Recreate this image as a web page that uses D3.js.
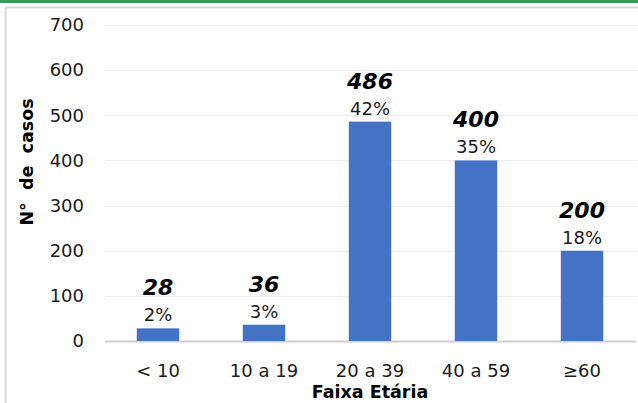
<!DOCTYPE html>
<html>
<head>
<meta charset="utf-8">
<script src="https://cdn.jsdelivr.net/npm/d3@7"></script>
<style>
  body { margin: 0; background: #fff; }
  svg { display: block; font-family: "DejaVu Sans", sans-serif; }
</style>
</head>
<body>
<svg></svg>
<script>
const svgWidth = 638;
const svgHeight = 403;

// data
const categories = ["< 10", "10 a 19", "20 a 39", "40 a 59", "\u226560"];
const counts = [28, 36, 486, 400, 200];
const percents = ["2%", "3%", "42%", "35%", "18%"];
const yTicks = [0, 100, 200, 300, 400, 500, 600, 700];

const margin = { top: 25, right: 3, bottom: 62, left: 105 };

const svg = d3.select("svg")
    .attr("width", svgWidth)
    .attr("height", svgHeight);

// frame: green strip on top, grey border
svg.append("rect").attr("x", 0).attr("y", 0).attr("width", svgWidth).attr("height", 3).attr("fill", "#3c9a5b");
svg.append("line").attr("x1", 5).attr("x2", svgWidth).attr("y1", 7.5).attr("y2", 7.5)
    .attr("stroke", "#d9d9d9").attr("stroke-width", 2);
svg.append("line").attr("x1", 5.5).attr("x2", 5.5).attr("y1", 7).attr("y2", svgHeight)
    .attr("stroke", "#d9d9d9").attr("stroke-width", 2);

const x = d3.scaleBand()
    .domain(categories)
    .range([margin.left, svgWidth - margin.right])
    .paddingInner(0.6)
    .paddingOuter(0.3);

const y = d3.scaleLinear()
    .domain([0, 700])
    .range([svgHeight - margin.bottom, margin.top]);

// gridlines
svg.append("g")
    .selectAll("line")
    .data(yTicks)
    .enter().append("line")
    .attr("x1", margin.left)
    .attr("x2", 636)
    .attr("y1", d => Math.round(y(d)) + 0.5)
    .attr("y2", d => Math.round(y(d)) + 0.5)
    .attr("stroke", d => d === 0 ? "#d0d0d0" : "#ececec")
    .attr("stroke-width", d => d === 0 ? 2 : 1.2);

// y axis labels
const yAxis = svg.append("g")
    .attr("transform", `translate(${margin.left - 21},0)`)
    .call(d3.axisLeft(y).tickValues(yTicks).tickSize(0).tickPadding(0));
yAxis.select(".domain").remove();
yAxis.selectAll("text")
    .attr("font-size", 18)
    .attr("font-family", "'DejaVu Sans', sans-serif")
    .attr("fill", "#1a1a1a");

// bars
svg.selectAll(".bar")
    .data(counts)
    .enter().append("rect")
    .attr("class", "bar")
    .attr("x", (d, i) => x(categories[i]))
    .attr("width", x.bandwidth())
    .attr("y", d => y(d))
    .attr("height", d => y(0) - y(d))
    .attr("fill", "#4472c4");

// value labels
svg.selectAll(".val")
    .data(counts)
    .enter().append("text")
    .attr("class", "val")
    .attr("x", (d, i) => x(categories[i]) + x.bandwidth() / 2)
    .attr("y", d => y(d) - 33)
    .attr("text-anchor", "middle")
    .attr("font-size", 22)
    .attr("font-weight", "bold")
    .attr("font-style", "italic")
    .attr("fill", "#000")
    .text(d => d);

svg.selectAll(".pct")
    .data(percents)
    .enter().append("text")
    .attr("class", "pct")
    .attr("x", (d, i) => x(categories[i]) + x.bandwidth() / 2)
    .attr("y", (d, i) => y(counts[i]) - 7)
    .attr("text-anchor", "middle")
    .attr("font-size", 18)
    .attr("fill", "#1a1a1a")
    .text(d => d);

// x axis labels
const xAxis = svg.append("g")
    .attr("transform", `translate(0,${y(0)})`)
    .call(d3.axisBottom(x).tickSize(0).tickPadding(0));
xAxis.select(".domain").remove();
xAxis.selectAll("text")
    .attr("dy", 0)
    .attr("y", 36)
    .attr("font-size", 18)
    .attr("font-family", "'DejaVu Sans', sans-serif")
    .attr("fill", "#1a1a1a");

// axis titles
svg.append("text")
    .attr("x", 370)
    .attr("y", 398)
    .attr("text-anchor", "middle")
    .attr("font-size", 17.5)
    .attr("font-weight", "bold")
    .text("Faixa Etária");

svg.append("text")
    .attr("transform", "translate(33,162) rotate(-90)")
    .attr("text-anchor", "middle")
    .attr("font-size", 17.5)
    .attr("font-weight", "bold")
    .attr("xml:space", "preserve")
    .text("N°  de  casos");
</script>
</body>
</html>
